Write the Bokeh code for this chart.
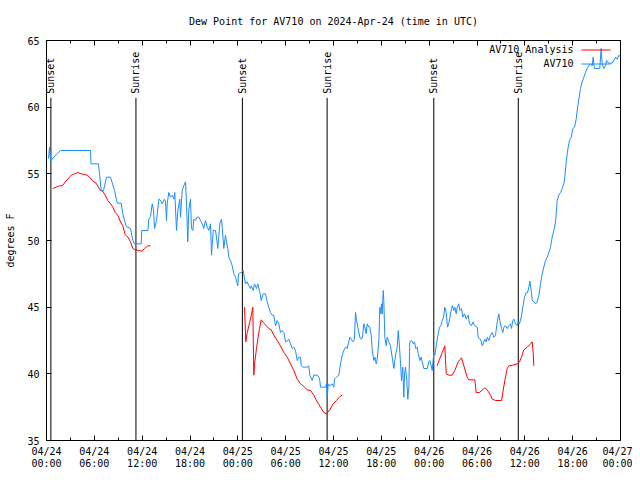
import math
from bokeh.plotting import figure
from bokeh.models import (Range1d, LinearAxis, FixedTicker, CustomJSTickFormatter,
                          Label, BoxAnnotation)
from bokeh.core.properties import value
from bokeh.embed import file_html
from bokeh.resources import INLINE

FONT = "DejaVu Sans Mono"
BLUE = "#1e8cff"
RED = "#ff0000"

TITLE = "Dew Point for AV710 on 2024-Apr-24 (time in UTC)"

# x values: hours since 2024-04-24 00:00 UTC ; y values: dew point, degrees F
obs_hours = [0.25, 0.38, 0.50, 1.22, 1.76, 5.52, 5.58, 6.52, 6.65, 6.86, 7.15, 7.53, 8.03, 8.53, 8.87,
             9.37, 9.57, 10.00, 10.54, 10.83, 11.04, 11.88, 11.95, 12.71, 12.83, 13.05, 13.26, 13.42,
             13.55, 13.80, 14.09, 14.30, 14.51, 14.80, 14.93, 15.05, 15.14, 15.34, 15.55, 15.77, 15.97,
             16.09, 16.31, 16.47, 16.72, 16.81, 17.02, 17.22, 17.44, 17.56, 17.72, 17.85, 18.06, 18.19,
             18.35, 18.48, 18.69, 18.90, 19.10, 19.32, 19.53, 19.73, 19.94, 20.16, 20.36, 20.57, 20.70,
             20.91, 21.20, 21.32, 21.49, 21.74, 21.95, 22.04, 22.24, 22.45, 22.58, 22.74, 22.87, 23.08,
             23.29, 23.50, 23.71, 23.92, 24.00, 24.08, 24.33, 24.46, 24.67, 24.96, 25.17, 25.38, 25.59,
             25.68, 25.93, 26.09, 26.34, 26.51, 26.76, 26.93, 27.18, 27.47, 27.68, 27.88, 28.10, 28.31,
             28.51, 28.73, 28.94, 29.14, 29.35, 29.57, 29.77, 29.98, 30.27, 30.39, 30.61, 30.82, 31.02,
             31.23, 31.45, 31.65, 31.86, 31.95, 32.20, 32.36, 32.70, 32.90, 33.03, 33.33, 33.53, 33.96,
             34.16, 34.28, 34.37, 35.00, 35.12, 35.21, 35.34, 35.54, 35.84, 36.04, 36.13, 36.38, 36.67,
             36.88, 37.09, 37.29, 37.51, 37.72, 37.79, 38.05, 38.22, 38.42, 38.63, 38.76, 38.89, 39.05,
             39.30, 39.48, 39.64, 39.80, 39.93, 40.10, 40.23, 40.43, 40.55, 40.73, 40.86, 41.06, 41.19,
             41.36, 41.48, 41.69, 41.81, 41.94, 42.02, 42.11, 42.24, 42.31, 42.44, 42.61, 42.74, 42.94,
             43.15, 43.36, 43.57, 43.78, 43.99, 44.12, 44.28, 44.41, 44.53, 44.69, 44.82, 44.91, 45.03,
             45.20, 45.32, 45.45, 45.57, 45.79, 46.00, 46.16, 46.32, 46.50, 46.63, 46.83, 47.00, 47.13,
             47.33, 47.76, 47.96, 48.08, 48.26, 48.38, 48.59, 48.71, 48.92, 49.13, 49.30, 49.46, 49.64,
             49.80, 49.96, 50.14, 50.30, 50.46, 50.68, 50.80, 50.89, 51.09, 51.22, 51.39, 51.52, 51.72,
             51.85, 52.06, 52.22, 52.44, 52.65, 52.90, 53.06, 53.31, 53.48, 53.73, 54.03, 54.15, 54.32,
             54.45, 54.66, 54.86, 54.99, 55.16, 55.29, 55.49, 55.69, 55.91, 56.11, 56.32, 56.54, 56.74,
             56.86, 57.08, 57.24, 57.37, 57.58, 57.79, 57.99, 58.20, 58.33, 58.49, 58.62, 58.83, 59.04,
             59.17, 59.33, 59.55, 59.75, 59.96, 60.17, 60.34, 60.50, 60.63, 60.80, 60.93, 61.13, 61.34,
             61.55, 61.76, 61.97, 62.18, 62.38, 62.59, 62.81, 63.01, 63.22, 63.43, 63.64, 63.85, 64.06,
             64.26, 64.48, 64.69, 64.89, 65.01, 65.23, 65.44, 65.60, 65.82, 66.02, 66.23, 66.44, 66.64,
             66.82, 66.98, 67.20, 67.40, 67.61, 67.82, 68.02, 68.23, 68.45, 68.57, 68.73, 69.40, 69.57,
             69.70, 69.90, 70.11, 70.24, 70.49, 70.96, 71.16, 71.38, 71.59, 71.79, 72.00]
obs_dewpt = [56.15, 57.0, 55.95, 56.45, 56.75, 56.75, 55.75, 55.75, 55.0, 53.75, 53.75, 54.75, 54.75, 53.75, 52.8,
             52.8, 52.0, 51.05, 50.9, 50.0, 49.75, 49.75, 50.75, 50.75, 51.6, 51.8, 52.75, 52.3,
             50.9, 51.5, 53.1, 53.0, 52.75, 53.1, 52.9, 51.5, 52.75, 53.6, 53.25, 53.4, 53.1,
             53.6, 50.75, 52.25, 53.1, 51.75, 53.75, 54.1, 54.4, 52.75, 49.9, 52.3, 53.1, 50.9,
             50.75, 51.6, 51.5, 51.75, 51.75, 51.5, 51.25, 50.9, 51.5, 51.0, 50.75, 51.25, 48.9,
             50.75, 50.75, 50.25, 49.4, 51.25, 51.6, 51.0, 49.4, 50.4, 49.9, 49.4, 48.75, 48.5,
             48.1, 47.5, 47.25, 46.75, 46.6, 47.5, 47.6, 47.6, 47.75, 46.75, 46.9, 46.6, 46.4,
             46.6, 46.25, 46.75, 46.4, 46.75, 46.1, 45.5, 46.0, 46.0, 45.4, 45.0, 44.6, 44.4,
             44.4, 43.6, 44.0, 43.75, 43.1, 43.25, 43.1, 42.4, 42.5, 42.6, 42.25, 41.9, 42.0,
             41.75, 41.0, 41.25, 41.25, 40.6, 40.5, 40.5, 40.5, 40.6, 39.9, 39.5, 39.9, 39.9,
             39.75, 39.5, 39.0, 39.0, 39.25, 38.25, 39.25, 39.1, 39.25, 39.0, 39.6, 39.75, 39.9,
             40.75, 41.4, 41.75, 42.0, 41.9, 42.1, 42.75, 42.6, 42.4, 42.6, 44.6, 44.0, 43.5,
             42.75, 42.6, 42.75, 43.75, 43.5, 43.0, 43.75, 43.5, 43.5, 42.9, 41.75, 41.0, 41.25,
             40.75, 41.1, 42.5, 45.0, 44.5, 45.25, 44.5, 46.25, 45.5, 42.75, 42.1, 42.75, 42.4,
             42.1, 41.25, 40.4, 41.4, 42.0, 43.25, 42.0, 40.75, 39.5, 40.5, 38.25, 40.0, 40.5,
             39.5, 38.1, 39.0, 42.4, 42.5, 42.25, 42.4, 41.9, 42.0, 41.5, 41.0, 41.25, 40.9,
             40.4, 40.4, 40.9, 41.0, 40.6, 40.25, 41.6, 41.4, 42.25, 43.0, 43.5, 43.6, 44.0,
             44.25, 45.0, 44.6, 43.5, 43.75, 44.5, 44.9, 45.1, 44.75, 45.0, 44.5, 45.0, 45.25,
             44.75, 44.9, 44.25, 44.5, 44.1, 44.4, 43.75, 43.6, 43.9, 43.6, 43.5, 42.75, 42.6,
             42.6, 42.1, 42.4, 42.6, 42.4, 42.75, 42.5, 42.9, 43.1, 42.75, 42.9, 43.9, 44.5,
             44.0, 43.4, 43.1, 43.5, 43.6, 43.4, 43.6, 43.75, 43.4, 44.0, 44.1, 43.75, 43.6,
             43.9, 43.75, 44.25, 45.0, 45.75, 46.1, 46.1, 46.5, 46.95, 46.25, 45.5, 45.4, 45.25,
             45.4, 45.9, 46.75, 47.5, 48.0, 48.5, 48.75, 49.1, 49.5, 50.25, 50.75, 51.4, 53.0,
             53.4, 53.6, 53.9, 54.25, 54.75, 56.1, 57.0, 57.5, 57.75, 58.4, 58.5, 59.1, 60.1,
             60.75, 61.4, 61.9, 62.25, 62.6, 62.9, 63.1, 63.25, 63.1, 63.75, 62.9, 62.9, 64.4,
             63.25, 62.9, 63.1, 63.5, 63.3, 63.3, 63.5, 63.75, 63.6, 63.9, 63.75]

ana1_hours = [0.79, 1.22, 1.63, 2.01, 2.35, 2.67, 3.10, 3.51, 3.93, 4.35, 4.77, 5.11, 5.39, 5.81, 6.23,
              6.52, 6.77, 7.06, 7.36, 7.69, 8.03, 8.32, 8.62, 8.94, 9.28, 9.57, 9.87, 10.20, 10.54,
              10.83, 11.13, 11.67, 11.95, 12.29, 12.71, 13.05]
ana1_dewpt = [53.9, 54.0, 54.1, 54.1, 54.4, 54.6, 54.9, 55.0, 55.1, 55.0, 54.95, 54.9, 54.75, 54.45, 54.3,
              54.0, 53.75, 53.7, 53.4, 53.0, 52.75, 52.5, 52.1, 51.9, 51.4, 51.1, 50.45, 50.25, 49.9,
              49.4, 49.3, 49.25, 49.2, 49.4, 49.6, 49.6]
ana2_hours = [24.84, 25.00, 25.18, 25.38, 25.59, 25.75, 25.88, 26.00, 26.13, 26.34, 26.51, 26.72, 26.93,
              27.26, 27.60, 27.88, 28.19, 28.51, 28.94, 29.35, 29.77, 30.19, 30.61, 31.02, 31.45,
              31.86, 32.28, 32.70, 33.12, 33.53, 33.96, 34.37, 34.78, 35.12, 35.54, 35.96, 36.38,
              36.79, 37.09]
ana2_dewpt = [45.0, 42.4, 43.1, 43.6, 44.1, 44.6, 45.0, 39.9, 40.9, 41.9, 42.6, 43.4, 44.05,
              43.8, 43.6, 43.4, 43.3, 42.9, 42.5, 42.1, 41.6, 41.25, 40.75, 40.25, 39.6,
              39.25, 39.05, 38.8, 38.75, 38.4, 37.9, 37.5, 37.1, 37.0, 37.3, 37.75, 38.0,
              38.3, 38.4]
ana3_hours = [49.01, 49.30, 49.64, 49.96, 50.14, 50.46, 50.89, 51.22, 51.64, 52.06, 52.35, 52.77, 52.97,
              53.73, 53.90, 54.32, 54.66, 54.98, 55.28, 55.69, 55.91, 56.32, 57.08, 57.24, 57.49,
              57.79, 57.99, 58.49, 59.04, 59.33, 59.58, 59.87, 60.30, 60.71, 60.93, 61.05, 61.13]
ana3_dewpt = [40.6, 41.1, 41.6, 42.1, 40.0, 39.9, 39.9, 40.25, 40.9, 41.2, 40.6, 39.75, 39.55,
              39.55, 38.6, 38.6, 38.8, 38.95, 38.8, 38.4, 38.1, 38.0, 38.0, 38.6, 39.5,
              40.4, 40.6, 40.65, 40.75, 40.9, 41.25, 41.8, 42.0, 42.25, 42.4, 41.5, 40.6]

event_hours = [0.55, 11.22, 24.57, 35.20, 48.58, 59.18]
event_names = ["Sunset", "Sunrise", "Sunset", "Sunrise", "Sunset", "Sunrise"]
event_line_top = 60.7
event_label_y = 61.0

x_tick_hours = [0, 6, 12, 18, 24, 30, 36, 42, 48, 54, 60, 66, 72]
x_minor_hours = [3, 9, 15, 21, 27, 33, 39, 45, 51, 57, 63, 69]
x_tick_labels = ["04/24\n00:00", "04/24\n06:00", "04/24\n12:00", "04/24\n18:00",
                 "04/25\n00:00", "04/25\n06:00", "04/25\n12:00", "04/25\n18:00",
                 "04/26\n00:00", "04/26\n06:00", "04/26\n12:00", "04/26\n18:00",
                 "04/27\n00:00"]
y_ticks = [35, 40, 45, 50, 55, 60, 65]
legend_labels = ["AV710 Analysis", "AV710"]

p = figure(frame_width=574, frame_height=400,
           x_range=Range1d(0, 72), y_range=Range1d(35, 65),
           output_backend="svg", toolbar_location=None,
           min_border_left=46, min_border_right=12, min_border_top=40, min_border_bottom=8,
           title=TITLE, x_axis_type=None, y_axis_type=None)
p.background_fill_color = "white"
p.border_fill_color = "white"
p.outline_line_color = "black"
p.outline_line_width = 1
p.grid.visible = False

p.title.text_font = FONT
p.title.text_font_size = "10px"
p.title.text_font_style = "normal"
p.title.text_color = "black"
p.title.align = "center"
p.title.standoff = 27

xt = FixedTicker(ticks=x_tick_hours, minor_ticks=x_minor_hours)
yt = FixedTicker(ticks=y_ticks)
blank = CustomJSTickFormatter(code="return ''")


def style_axis(ax):
    ax.axis_line_color = None
    ax.major_tick_in = 5
    ax.major_tick_out = 0
    ax.minor_tick_in = 3
    ax.minor_tick_out = 0
    ax.major_tick_line_color = "black"
    ax.minor_tick_line_color = "black"
    ax.major_label_text_font = FONT
    ax.major_label_text_font_size = "10px"
    ax.major_label_text_color = "black"


xb = LinearAxis(ticker=xt, major_label_overrides={t: s for t, s in zip(x_tick_hours, x_tick_labels)})
style_axis(xb)
xb.major_label_standoff = 5
xb.major_label_text_line_height = 1.1
p.add_layout(xb, "below")

yl = LinearAxis(ticker=yt, axis_label="degrees F")
style_axis(yl)
yl.major_label_standoff = 7
yl.axis_label_standoff = 8
yl.axis_label_text_font = FONT
yl.axis_label_text_font_size = "10px"
yl.axis_label_text_font_style = "normal"
yl.axis_label_text_color = "black"
p.add_layout(yl, "left")

xa = LinearAxis(ticker=xt, formatter=blank)
style_axis(xa)
xa.major_label_standoff = 0
p.add_layout(xa, "above")

yr = LinearAxis(ticker=yt, formatter=blank)
style_axis(yr)
yr.major_label_standoff = 0
p.add_layout(yr, "right")

# sunrise / sunset markers
p.segment(x0=event_hours, y0=[35] * len(event_hours), x1=event_hours,
          y1=[event_line_top] * len(event_hours), line_color="black", line_width=1)
p.text(x=event_hours, y=[event_label_y] * len(event_hours), text=event_names,
       angle=math.pi / 2, text_align="left", text_baseline="middle",
       text_font=value(FONT), text_font_size="10px", text_color="black")

# data
for hrs, vals in ((ana1_hours, ana1_dewpt), (ana2_hours, ana2_dewpt), (ana3_hours, ana3_dewpt)):
    p.line(hrs, vals, line_color=RED, line_width=1)
p.line(obs_hours, obs_dewpt, line_color=BLUE, line_width=1)

# gnuplot-style key (label then sample line)
for i, (lab, col) in enumerate(zip(legend_labels, [RED, BLUE])):
    yy = 391 - 14 * i
    p.add_layout(Label(x=527, y=yy, x_units="screen", y_units="screen", text=lab,
                       text_align="right", text_baseline="middle",
                       text_font=FONT, text_font_size="10px", text_color="black"))
    p.add_layout(BoxAnnotation(left=535, right=564, bottom=yy - 1, top=yy,
                               left_units="screen", right_units="screen",
                               bottom_units="screen", top_units="screen",
                               fill_color=col, fill_alpha=1.0, line_color=None))

open("out.html", "w").write(file_html(p, INLINE))
